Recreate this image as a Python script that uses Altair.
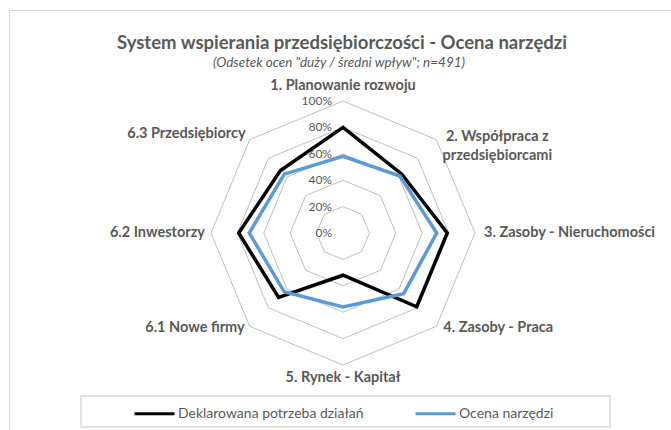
import altair as alt
import pandas as pd

# ---------------- data ----------------
categories = [
    "1. Planowanie rozwoju",
    "2. Współpraca z\nprzedsiębiorcami",
    "3. Zasoby - Nieruchomości",
    "4. Zasoby - Praca",
    "5. Rynek - Kapitał",
    "6.1 Nowe firmy",
    "6.2 Inwestorzy",
    "6.3 Przedsiębiorcy",
]
series_names = ["Deklarowana potrzeba działań", "Ocena narzędzi"]
potrzeba = [80, 63, 79, 79, 32, 69, 79, 67]
ocena = [58, 61, 71, 65, 56, 63, 71, 63]
ring_levels = [20, 40, 60, 80, 100]
tick_levels = [0, 20, 40, 60, 80, 100]
title_text = "System wspierania przedsiębiorczości - Ocena narzędzi"
subtitle_text = '(Odsetek ocen "duży / średni wpływ"; n=491)'

# ---------------- tables ----------------
N = len(categories)
series_df = pd.DataFrame({
    "series": [series_names[0]] * N + [series_names[1]] * N,
    "idx": list(range(N)) * 2,
    "value": potrzeba + ocena,
})
ring_df = pd.DataFrame([{"level": l, "idx": i} for l in ring_levels for i in range(N)])
tick_df = pd.DataFrame({"level": tick_levels})
cat_df = pd.DataFrame({"idx": list(range(N)), "label": categories})
one_df = pd.DataFrame({"a": [0]})

# ---------------- layout ----------------
W, H = 671, 430
CX, CY, R = 343, 233, 132
xdom = [-CX / R * 100, (W - CX) / R * 100]
ydom = [-(H - CY) / R * 100, CY / R * 100]
FONT = "Lato"
GRAY = "#595959"

xenc = alt.X("px:Q", scale=alt.Scale(domain=xdom, nice=False, zero=False), axis=None)
yenc = alt.Y("py:Q", scale=alt.Scale(domain=ydom, nice=False, zero=False), axis=None)


def polar(chart, rfield):
    return chart.transform_calculate(
        px=f"datum.{rfield} * sin(datum.idx * 2 * PI / {N})",
        py=f"datum.{rfield} * cos(datum.idx * 2 * PI / {N})",
    )


frame = alt.Chart(one_df).mark_rect(fillOpacity=0, stroke="#d9d9d9", strokeWidth=1).encode(
    x=alt.value(9.5), x2=alt.value(720), y=alt.value(10.5), y2=alt.value(480)
)

rings = polar(alt.Chart(ring_df), "level").mark_line(
    interpolate="linear-closed", stroke="#bfbfbf", strokeWidth=1
).encode(x=xenc, y=yenc, detail="level:N", order="idx:Q")

ticks = alt.Chart(tick_df).transform_calculate(
    px="0", py="datum.level", lab="datum.level + '%'"
).mark_text(align="right", baseline="middle", dx=-11, font=FONT, fontSize=12, color=GRAY).encode(
    x=xenc, y=yenc, text="lab:N"
)

label_style = {
    0: dict(align="center", dx=0, dy=-15),
    1: dict(align="center", dx=61, dy=-3),
    2: dict(align="left", dx=9, dy=0),
    3: dict(align="left", dx=7, dy=2),
    4: dict(align="center", dx=0, dy=13),
    5: dict(align="right", dx=-5, dy=2),
    6: dict(align="right", dx=-6, dy=0),
    7: dict(align="right", dx=-4, dy=-6),
}
cat_layers = []
for i, st in label_style.items():
    cat_layers.append(
        alt.Chart(cat_df)
        .transform_filter(f"datum.idx == {i}")
        .transform_calculate(
            px=f"100 * sin(datum.idx * 2 * PI / {N})",
            py=f"100 * cos(datum.idx * 2 * PI / {N})",
        )
        .mark_text(baseline="middle", font=FONT, fontSize=14.5, fontWeight="bold", color=GRAY,
                   lineBreak="\n", lineHeight=19, **st)
        .encode(x=xenc, y=yenc, text="label:N")
    )

lines = polar(alt.Chart(series_df), "value").mark_line(
    interpolate="linear-closed", strokeWidth=3.5, strokeJoin="miter"
).encode(
    x=xenc, y=yenc, order="idx:Q",
    color=alt.Color(
        "series:N",
        scale=alt.Scale(domain=series_names, range=["#000000", "#5b9bd5"]),
        legend=alt.Legend(
            orient="none", legendX=133, legendY=392, direction="horizontal", title=None,
            symbolType="stroke", symbolSize=1600, symbolStrokeWidth=3,
            labelFont=FONT, labelFontSize=14, labelColor=GRAY, labelLimit=400,
            labelOffset=2, columnPadding=45, padding=0,
        ),
    ),
)

legend_box = alt.Chart(one_df).mark_rect(fillOpacity=0, stroke="#d9d9d9", strokeWidth=1.5).encode(
    x=alt.value(81), x2=alt.value(610), y=alt.value(396), y2=alt.value(427)
)

title = alt.Chart(one_df).mark_text(
    text=title_text, font=FONT, fontSize=18.5, fontWeight="bold", color=GRAY, align="center", baseline="middle"
).encode(x=alt.value(342), y=alt.value(43))

subtitle = alt.Chart(one_df).mark_text(
    text=subtitle_text, font=FONT, fontSize=13.5, fontStyle="italic", color=GRAY, align="center", baseline="middle"
).encode(x=alt.value(339), y=alt.value(63))

chart = alt.layer(frame, rings, ticks, *cat_layers, lines, legend_box, title, subtitle).properties(
    width=W, height=H, padding=0, autosize=alt.AutoSizeParams(type="none"), background="white"
).configure_view(stroke=None)

chart.save("out.html", embed_options={"renderer": "svg", "actions": False})
